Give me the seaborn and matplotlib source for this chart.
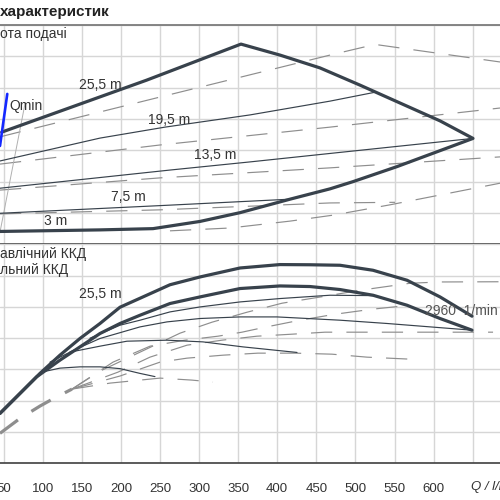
import matplotlib
matplotlib.use("Agg")
import matplotlib.pyplot as plt
from matplotlib.ticker import MultipleLocator
import seaborn as sns

# Q axis
q_ticks = [50, 100, 150, 200, 250, 300, 350, 400, 450, 500, 550, 600, 650]
q_tick_labels = ["50", "100", "150", "200", "250", "300", "350", "400", "450", "500", "550", "600", ""]

# top panel - envelope 25,5 m ... 3 m
env_q = [47.6, 233.0, 353.6, 403.5, 454.7, 505.9, 557.0, 608.2, 650.4,
         553.2, 496.9, 467.5, 416.3, 352.4, 301.2, 241.1, 173.3, 45.4]
env_v = [3.58, 5.24, 6.39, 6.04, 5.63, 5.08, 4.51, 3.94, 3.38,
         2.48, 2.00, 1.77, 1.44, 1.01, 0.73, 0.50, 0.46, 0.41]
h195_q = [45.4, 173.3, 256.4, 365.2, 467.5, 526.3]
h195_v = [2.66, 3.39, 3.74, 4.13, 4.57, 4.86]
h135_q = [45.4, 262.8, 365.2, 467.5, 650.4]
h135_v = [1.79, 2.37, 2.63, 2.90, 3.38]
h75_q = [45.4, 262.8, 416.3]
h75_v = [0.99, 1.25, 1.44]

# top panel dashed
dA_q = [45.4, 250.0, 467.5, 525.1, 684.9]
dA_v = [3.43, 4.70, 6.04, 6.38, 5.82]
dB_q = [45.4, 250.0, 467.5, 684.9]
dB_v = [2.56, 3.17, 3.74, 4.35]
dC_q = [45.4, 250.0, 467.5, 684.9]
dC_v = [1.73, 2.12, 2.44, 2.79]
dD_q = [45.4, 250.0, 467.5, 550.6]
dD_v = [0.97, 1.10, 1.32, 1.34]
dE_q = [262.8, 339.6, 416.3, 471.3, 544.2, 619.7, 684.9]
dE_v = [0.43, 0.52, 0.74, 0.93, 1.26, 1.63, 1.95]

qmin_q = [54.7, 45.4]
qmin_v = [4.80, 3.14]
aux_q = [77.4, 45.4]
aux_v = [4.49, 0.39]

# bottom panel - hydraulic efficiency
effA_q = [45.4, 71.0, 96.5, 122.1, 147.7, 173.3, 198.9, 224.5, 262.8, 301.2,
          352.4, 403.5, 441.9, 480.3, 522.5, 566.0, 608.2, 649.1]
effA_v = [15.96, 22.34, 28.73, 34.57, 39.90, 44.69, 49.89, 52.76, 57.07, 59.56,
          62.43, 63.52, 63.46, 63.30, 61.70, 58.51, 53.18, 47.02]
effB_q = [45.4, 71.0, 92.3, 122.1, 147.7, 173.3, 198.9, 224.5, 262.8, 301.2,
          352.4, 403.5, 441.9, 480.3, 522.5, 566.0, 608.2, 649.1]
effB_v = [15.96, 22.34, 27.64, 32.97, 37.21, 41.49, 44.69, 47.33, 51.07, 53.18,
          55.86, 56.69, 56.50, 55.54, 53.72, 50.52, 46.28, 42.55]
eff1_q = [100.4, 122.1, 147.7, 173.3, 198.9, 224.5, 243.6]
eff1_v = [29.24, 30.42, 30.83, 30.83, 30.26, 28.73, 27.71]
eff2_q = [109.3, 134.9, 173.3, 207.8, 258.8, 305.0, 356.2, 425.3]
eff2_v = [32.33, 35.53, 37.44, 39.03, 39.35, 38.81, 37.21, 35.43]
eff3_q = [134.9, 173.3, 224.5, 259.0, 301.2, 352.4, 399.7, 480.3, 540.4, 649.1]
eff3_v = [35.62, 39.90, 43.60, 45.20, 46.28, 46.79, 46.79, 45.74, 44.69, 42.55]
eff4_q = [160.5, 198.9, 224.5, 262.8, 301.2, 352.4, 403.5, 467.5, 525.0]
eff4_v = [39.99, 44.14, 45.74, 48.39, 49.98, 51.58, 52.66, 53.72, 53.59]

# bottom panel dashed (overall efficiency)
tot0_q = [45.4, 71.0, 96.5, 111.9, 137.5]
tot0_v = [9.58, 14.36, 18.29, 20.43, 23.72]
totA_q = [137.5, 173.3, 224.5, 275.6, 316.5, 361.3, 406.1, 461.1, 505.9, 569.8, 608.2, 684.9]
totA_v = [23.72, 29.46, 35.53, 41.59, 45.10, 48.29, 51.17, 53.40, 55.31, 57.55, 57.96, 58.03]
totB_q = [137.5, 189.9, 237.2, 282.0, 324.2, 354.9, 384.3, 429.1, 473.9, 521.2, 569.8]
totB_v = [23.72, 32.33, 37.43, 39.35, 40.63, 41.91, 43.50, 45.74, 47.65, 49.25, 50.52]
totC_q = [137.5, 196.3, 237.2, 284.6, 329.3, 374.1, 418.9, 461.1, 557.0, 676.0]
totC_v = [23.72, 29.14, 33.93, 37.76, 39.35, 40.63, 41.27, 41.91, 41.91, 41.91]
totD_q = [137.5, 198.9, 250.0, 284.6, 330.6, 375.4, 422.7, 470.0, 514.8, 569.8]
totD_v = [23.72, 27.90, 32.33, 33.61, 34.56, 35.21, 35.21, 34.88, 33.93, 33.29]
totE_q = [137.5, 186.1, 250.0, 291.0, 317.8]
totE_v = [23.72, 25.63, 27.23, 26.59, 25.95]

DARK = "#38424c"
GREY = "#8e8e8e"
GRID = "#d6d6d6"

sns.set_style("white")
plt.rcParams["font.family"] = ["Liberation Sans", "DejaVu Sans"]


def draw(ax, q, v, color, lw, ls="-", z=3):
    sns.lineplot(x=q, y=v, ax=ax, color=color, linewidth=lw, linestyle=ls,
                 sort=False, estimator=None, legend=False, zorder=z,
                 solid_joinstyle="round", solid_capstyle="round")


fig = plt.figure(figsize=(5, 5), dpi=100)
ax_top = fig.add_axes([0, 0.5114, 1, 0.4386])
ax_bot = fig.add_axes([0, 0.0734, 1, 0.438])

for ax in (ax_top, ax_bot):
    ax.set_xlim(45.4, 684.9)
    ax.set_xticks(q_ticks)
    ax.grid(True, color=GRID, linewidth=1.0, zorder=0)
    ax.set_axisbelow(True)
    ax.spines["left"].set_visible(False)
    ax.spines["right"].set_visible(False)
    ax.tick_params(axis="y", left=False, labelleft=False)

ax_top.set_ylim(0, 7)
ax_top.set_yticks(range(0, 8))
ax_top.tick_params(axis="x", bottom=False, labelbottom=False)
ax_top.spines["top"].set_color("#7c7c7c")
ax_top.spines["top"].set_linewidth(1.3)
ax_top.spines["bottom"].set_color("#505050")
ax_top.spines["bottom"].set_linewidth(1.2)

ax_bot.set_ylim(0, 70)
ax_bot.set_yticks(range(0, 71, 10))
ax_bot.spines["top"].set_visible(False)
ax_bot.spines["bottom"].set_color("#404040")
ax_bot.spines["bottom"].set_linewidth(1.2)
ax_bot.set_xticklabels(q_tick_labels)
ax_bot.xaxis.set_minor_locator(MultipleLocator(10))
ax_bot.tick_params(axis="x", which="major", direction="out", length=6.5, width=0.9,
                   color="#333333", labelsize=9.5, labelcolor="#333333", pad=7.5)
ax_bot.tick_params(axis="x", which="minor", direction="out", length=4, width=0.8,
                   color="#333333")

# top panel
dash = (0, (18, 12))
for q, v in [(dA_q, dA_v), (dB_q, dB_v), (dC_q, dC_v), (dD_q, dD_v), (dE_q, dE_v)]:
    draw(ax_top, q, v, GREY, 0.85, dash, z=2)
draw(ax_top, aux_q, aux_v, "#b0b0b0", 0.7, z=2)
for q, v in [(h195_q, h195_v), (h135_q, h135_v), (h75_q, h75_v)]:
    draw(ax_top, q, v, DARK, 0.85)
draw(ax_top, env_q, env_v, DARK, 2.3, z=4)
draw(ax_top, qmin_q, qmin_v, "#1428ff", 1.9, z=5)

# bottom panel
for q, v in [(totA_q, totA_v), (totB_q, totB_v), (totC_q, totC_v),
             (totD_q, totD_v), (totE_q, totE_v)]:
    draw(ax_bot, q, v, GREY, 0.85, dash, z=2)
draw(ax_bot, tot0_q, tot0_v, GREY, 2.3, (0, (7, 5)), z=2)
for q, v in [(eff1_q, eff1_v), (eff2_q, eff2_v), (eff3_q, eff3_v), (eff4_q, eff4_v)]:
    draw(ax_bot, q, v, DARK, 0.85)
draw(ax_bot, effA_q, effA_v, DARK, 2.3, z=4)
draw(ax_bot, effB_q, effB_v, DARK, 2.3, z=4)


def label(px, py, s, **kw):
    kw.setdefault("fontsize", 10)
    kw.setdefault("color", "#333333")
    fig.text(px / 500, 1 - py / 500, s, va="center", ha="left", **kw)


label(0, 12, "характеристик", fontsize=11, fontweight="bold", color="#222222")
label(0, 34, "ота подачі")
label(79, 85, "25,5 m")
label(148, 120, "19,5 m")
label(194, 155, "13,5 m")
label(111, 197, "7,5 m")
label(44, 221, "3 m")
label(9, 106, "Qmin")
label(0, 254, "авлічний ККД")
label(0, 270, "льний ККД")
label(79, 294, "25,5 m")
label(425, 311, "2960  1/min (", color="#555555", zorder=1)
label(471, 487, "Q / l/min", fontsize=9.5, style="italic")

fig.savefig("out.png", dpi=100)
